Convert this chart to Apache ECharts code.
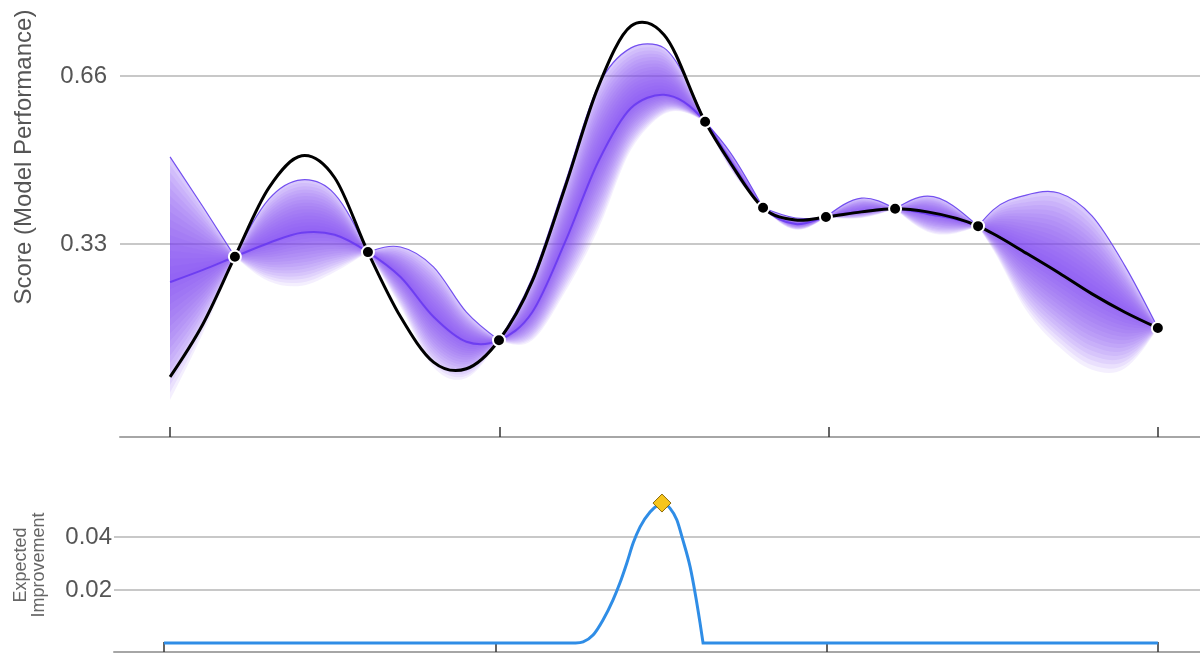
<!DOCTYPE html>
<html><head><meta charset="utf-8">
<script src="https://cdn.jsdelivr.net/npm/echarts@6/dist/echarts.min.js"></script>
<style>html,body{margin:0;padding:0;background:#fff}#c{width:1200px;height:654px}</style>
</head><body><div id="c"></div>
<script>
// ---- Data ----
const xs = [0, 0.1, 0.197, 0.3, 0.4, 0.5, 0.601, 0.7, 0.8, 0.9, 0.999, 1.1, 1.2, 1.3, 1.4, 1.45, 1.5, 1.625, 1.7, 1.801, 1.9, 1.992, 2.1, 2.202, 2.3, 2.454, 2.5, 2.6, 2.7, 2.8, 2.9, 3.0];
const trueScore = [0.069, 0.173, 0.305, 0.440, 0.503, 0.460, 0.314, 0.187, 0.098, 0.085, 0.141, 0.257, 0.442, 0.638, 0.758, 0.764, 0.741, 0.570, 0.491, 0.401, 0.377, 0.383, 0.393, 0.399, 0.393, 0.365, 0.350, 0.312, 0.273, 0.232, 0.196, 0.165];
const meanScore = [0.255, 0.279, 0.305, 0.332, 0.352, 0.348, 0.314, 0.265, 0.187, 0.138, 0.141, 0.196, 0.334, 0.491, 0.597, 0.617, 0.623, 0.570, 0.495, 0.401, 0.369, 0.383, 0.394, 0.399, 0.389, 0.365, 0.350, 0.312, 0.273, 0.232, 0.196, 0.165];
const upperScore = [0.501, 0.403, 0.305, 0.418, 0.456, 0.428, 0.314, 0.324, 0.285, 0.196, 0.141, 0.263, 0.450, 0.640, 0.715, 0.723, 0.715, 0.570, 0.511, 0.401, 0.381, 0.383, 0.420, 0.399, 0.424, 0.365, 0.397, 0.426, 0.430, 0.385, 0.287, 0.165];
const lowerScore = [0.024, 0.155, 0.305, 0.257, 0.248, 0.275, 0.314, 0.206, 0.088, 0.067, 0.141, 0.141, 0.236, 0.358, 0.515, 0.558, 0.585, 0.570, 0.479, 0.401, 0.358, 0.383, 0.381, 0.399, 0.354, 0.365, 0.318, 0.200, 0.128, 0.083, 0.086, 0.165];
const obsX = [0.197, 0.601, 0.999, 1.625, 1.801, 1.992, 2.202, 2.454, 3.0];
const obsY = [0.305, 0.314, 0.141, 0.570, 0.401, 0.383, 0.399, 0.365, 0.165];
const eiX = [0, 1.2, 1.234, 1.265, 1.295, 1.325, 1.355, 1.376, 1.397, 1.416, 1.437, 1.467, 1.491, 1.503, 1.527, 1.548, 1.566, 1.588, 1.603, 1.618, 1.627, 1.65, 1.8, 3.0];
const eiVal = [0, 0, 0, 0.0004, 0.003, 0.0087, 0.0162, 0.0226, 0.0302, 0.0377, 0.0438, 0.0494, 0.0521, 0.0528, 0.0509, 0.0464, 0.0389, 0.0287, 0.0189, 0.0075, 0, 0, 0, 0];
const eiMax = [1.503, 0.0528];
const scoreTicks = [0.33, 0.66];
const eiTicks = [0.02, 0.04];
const xTicks = [0, 1, 2, 3];

// ---- Curve helpers (cubic Hermite through pixel points from api.coord) ----
function hermSegs(p) {
  const n = p.length, segs = [];
  if (n < 2) return segs;
  const s = [], h = [];
  for (let i = 0; i < n - 1; i++) { h[i] = p[i + 1][0] - p[i][0]; s[i] = h[i] ? (p[i + 1][1] - p[i][1]) / h[i] : 0; }
  const m = new Array(n);
  for (let i = 1; i < n - 1; i++) m[i] = (s[i - 1] * h[i] + s[i] * h[i - 1]) / (h[i - 1] + h[i]);
  if (n === 2) { m[0] = s[0]; m[1] = s[0]; }
  else { m[0] = (3 * s[0] - m[1]) / 2; m[n - 1] = (3 * s[n - 2] - m[n - 2]) / 2; }
  for (let i = 0; i < n - 1; i++) {
    const d = h[i] / 3;
    segs.push([p[i], [p[i][0] + d, p[i][1] + m[i] * d], [p[i + 1][0] - d, p[i + 1][1] - m[i + 1] * d], p[i + 1]]);
  }
  return segs;
}
function segsWithBreaks(p, breaks) {
  if (!breaks || !breaks.length) return hermSegs(p);
  let out = [], start = 0;
  const b = breaks.filter(i => i > 0 && i < p.length - 1).concat([p.length - 1]);
  for (const e of b) { out = out.concat(hermSegs(p.slice(start, e + 1))); start = e; }
  return out;
}
const f2 = v => v.toFixed(2);
function pathForward(segs) {
  let d = 'M' + f2(segs[0][0][0]) + ' ' + f2(segs[0][0][1]);
  for (const g of segs) d += ' C' + f2(g[1][0]) + ' ' + f2(g[1][1]) + ' ' + f2(g[2][0]) + ' ' + f2(g[2][1]) + ' ' + f2(g[3][0]) + ' ' + f2(g[3][1]);
  return d;
}
function pathBackward(segs) {
  const last = segs[segs.length - 1][3];
  let d = 'L' + f2(last[0]) + ' ' + f2(last[1]);
  for (let i = segs.length - 1; i >= 0; i--) { const g = segs[i]; d += ' C' + f2(g[2][0]) + ' ' + f2(g[2][1]) + ' ' + f2(g[1][0]) + ' ' + f2(g[1][1]) + ' ' + f2(g[0][0]) + ' ' + f2(g[0][1]); }
  return d;
}
const obsIdx = obsX.map(ox => xs.indexOf(ox));

function lineSeries(ax, xArr, yArr, breaks, style, z) {
  return {
    type: 'custom', xAxisIndex: ax, yAxisIndex: ax, silent: true, data: [0], z: z || 2,
    renderItem: (params, api) => {
      const pts = xArr.map((x, i) => api.coord([x, yArr[i]]));
      return { type: 'path', shape: { pathData: pathForward(segsWithBreaks(pts, breaks)) }, style: Object.assign({ fill: 'none' }, style) };
    }
  };
}
function bandSeries(hiArr, loArr, fill, opacity, z) {
  return {
    type: 'custom', xAxisIndex: 0, yAxisIndex: 0, silent: true, data: [0], z: z || 1,
    renderItem: (params, api) => {
      const top = xs.map((x, i) => api.coord([x, hiArr[i]]));
      const bot = xs.map((x, i) => api.coord([x, loArr[i]]));
      const d = pathForward(segsWithBreaks(top, obsIdx)) + ' ' + pathBackward(segsWithBreaks(bot, obsIdx)) + ' Z';
      return { type: 'path', shape: { pathData: d }, style: { fill: fill, opacity: opacity } };
    }
  };
}

const PURPLE = '#7a45f5';
const series = [];
series.push(bandSeries(upperScore, meanScore, PURPLE, 0.22, 1));
const N = 16;
for (let k = 1; k <= N; k++) {
  const f = k / N;
  const lo = meanScore.map((m, i) => m + (lowerScore[i] - m) * f);
  const hi = meanScore.map((m, i) => m + (upperScore[i] - m) * f);
  series.push(bandSeries(hi, lo, PURPLE, 0.085, 1));
}
series.push(lineSeries(0, xs, upperScore, obsIdx, { stroke: '#7450f0', lineWidth: 1.2 }, 3));
series.push(lineSeries(0, xs, meanScore, null, { stroke: '#6030f0', lineWidth: 2, opacity: 0.75 }, 3));
series.push(lineSeries(0, xs, trueScore, null, { stroke: '#000', lineWidth: 3 }, 4));
series.push({ type: 'scatter', xAxisIndex: 0, yAxisIndex: 0, silent: true, symbolSize: 12, data: obsX.map((x, i) => [x, obsY[i]]), itemStyle: { color: '#000', borderColor: '#fff', borderWidth: 2, opacity: 1 }, z: 10 });
series.push(lineSeries(1, eiX, eiVal, [eiVal.indexOf(0, 3)], { stroke: '#2f8de6', lineWidth: 3 }, 3));
series.push({ type: 'scatter', xAxisIndex: 1, yAxisIndex: 1, silent: true, symbol: 'diamond', symbolSize: [18, 18], data: [eiMax], itemStyle: { color: '#f6c51c', borderColor: '#8c6b0c', borderWidth: 1, opacity: 1 }, z: 10 });

const FONT = 'Liberation Sans, Arial, Helvetica, sans-serif';
const xAxisBase = (gi, min, max) => ({
  gridIndex: gi, type: 'value', min: min, max: max,
  axisLine: { onZero: false, lineStyle: { color: '#a6a6a6', width: 2 } },
  axisTick: { show: true, inside: true, length: 10, customValues: xTicks, lineStyle: { color: '#333', width: 1.5 } },
  axisLabel: { show: false }, splitLine: { show: false }
});
const yAxisBase = (gi, min, max, ticks, margin) => ({
  gridIndex: gi, type: 'value', min: min, max: max,
  axisLine: { show: false },
  axisTick: { show: false, customValues: ticks },
  axisLabel: { customValues: ticks, fontSize: 24, color: '#555', margin: margin, fontFamily: FONT, formatter: v => v.toFixed(2) },
  splitLine: { show: true, lineStyle: { color: '#c8c8c8', width: 2 } }
});

const option = {
  animation: false,
  backgroundColor: '#fff',
  grid: [
    { left: 120, right: 0, top: 0, height: 437 },
    { left: 114, right: 0, top: 480, height: 172 }
  ],
  xAxis: [xAxisBase(0, -0.152, 3.128), xAxisBase(1, -0.151, 3.127)],
  yAxis: [yAxisBase(0, -0.049, 0.809, scoreTicks, 13), yAxisBase(1, -0.0034, 0.0615, eiTicks, 2)],
  graphic: [
    { type: 'text', x: 24, y: 157, rotation: Math.PI / 2, style: { text: 'Score (Model Performance)', fontSize: 24, fill: '#555', fontFamily: FONT, align: 'center', verticalAlign: 'middle' } },
    { type: 'text', x: 30, y: 565, rotation: Math.PI / 2, style: { text: 'Expected\nImprovement', fontSize: 18, lineHeight: 18, fill: '#666', fontFamily: FONT, align: 'center', verticalAlign: 'middle' } }
  ],
  series: series
};
const chart = echarts.init(document.getElementById('c'));
chart.setOption(option);
</script></body></html>
